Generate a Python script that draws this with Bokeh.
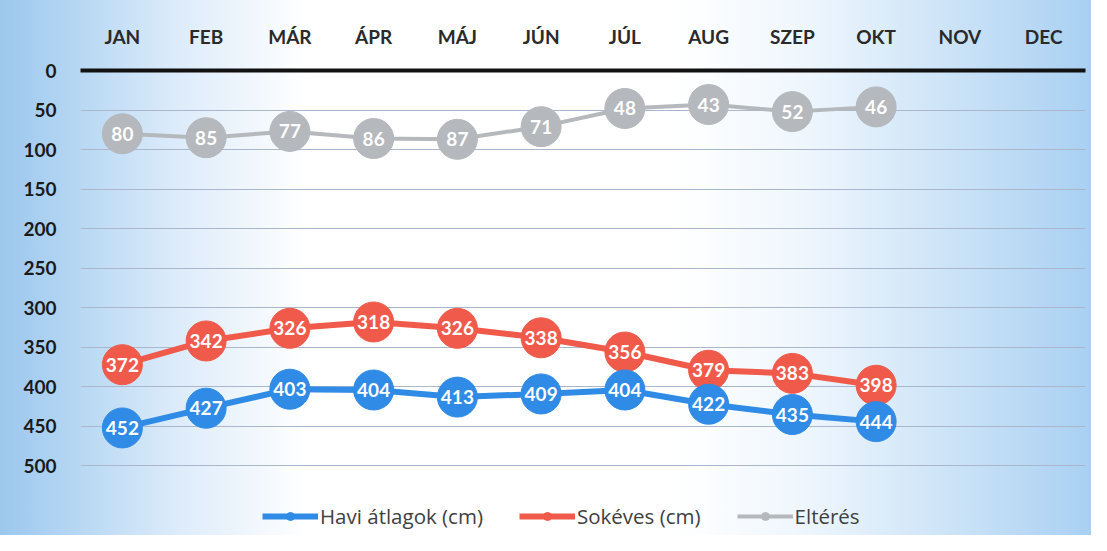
from bokeh.plotting import figure
from bokeh.models import ColumnDataSource, Range1d, Legend, LegendItem, FixedTicker
from bokeh.core.properties import value
from bokeh.embed import file_html
from bokeh.resources import INLINE

months = ["JAN", "FEB", "MÁR", "ÁPR", "MÁJ", "JÚN", "JÚL", "AUG", "SZEP", "OKT", "NOV", "DEC"]
data_months = ["JAN", "FEB", "MÁR", "ÁPR", "MÁJ", "JÚN", "JÚL", "AUG", "SZEP", "OKT"]
havi = [452, 427, 403, 404, 413, 409, 404, 422, 435, 444]
sokeves = [372, 342, 326, 318, 326, 338, 356, 379, 383, 398]
elteres = [80, 85, 77, 86, 87, 71, 48, 43, 52, 46]
y_ticks = [0, 50, 100, 150, 200, 250, 300, 350, 400, 450, 500]

series = [
    ("Eltérés", elteres, "#b5b8bc", 4),
    ("Sokéves (cm)", sokeves, "#f05a4b", 6),
    ("Havi átlagok (cm)", havi, "#2f8be6", 6),
]

FONT = "Lato"

p = figure(
    x_range=months, y_range=Range1d(588, 0),
    width=1091, height=535,
    output_backend="svg", toolbar_location=None,
    x_axis_location="above",
    min_border_left=80, min_border_right=6, min_border_top=70, min_border_bottom=0,
)
p.border_fill_color = None
p.background_fill_color = None
p.outline_line_color = None
p.styles = {"background": "linear-gradient(90deg, #9cc7ee 0%, #b6d7f3 7%, #dcebfa 16%, #ffffff 28%, #ffffff 62%, #eef6fd 74%, #cfe5f8 86%, #a9d0f2 100%)"}

# axes
xa = p.xaxis[0]
xa.axis_line_color = "#111111"
xa.axis_line_width = 4
xa.major_tick_line_color = None
xa.minor_tick_line_color = None
xa.major_label_standoff = 17
xa.major_label_text_font = FONT
xa.major_label_text_font_size = "19px"
xa.major_label_text_color = "#2a2a2a"
xa.major_label_text_font_style = "bold"

ya = p.yaxis[0]
ya.ticker = FixedTicker(ticks=y_ticks)
ya.axis_line_color = None
ya.major_tick_line_color = None
ya.minor_tick_line_color = None
ya.major_label_standoff = 18
ya.major_label_text_font = FONT
ya.major_label_text_font_size = "19px"
ya.major_label_text_color = "#1a1a1a"
ya.major_label_text_font_style = "bold"

p.xgrid.grid_line_color = None
p.ygrid.ticker = FixedTicker(ticks=y_ticks[1:])
p.ygrid.grid_line_color = "#a9b6cc"
p.ygrid.grid_line_width = 1.2

items = []
for name, vals, col, lw in series:
    src = ColumnDataSource(dict(m=data_months, v=vals, t=[str(v) for v in vals]))
    l = p.line(x="m", y="v", source=src, line_color=col, line_width=lw)
    s = p.scatter(x="m", y="v", source=src, size=40, fill_color=col, line_color=col)
    p.text(x="m", y="v", text="t", source=src, text_align="center", text_baseline="middle",
           text_color="white", text_font=value(FONT), text_font_style="bold", text_font_size="19px")
    items.append(LegendItem(label=name, renderers=[l, s]))

items = items[::-1]
legend = Legend(items=items, orientation="horizontal", location=(176, -1),
                label_text_font="Open Sans", label_text_font_size="20.5px", label_text_color="#404040",
                glyph_width=56, glyph_height=20, spacing=36, padding=6, margin=0,
                label_standoff=2,
                background_fill_alpha=0, border_line_alpha=0)
p.add_layout(legend, "center")

open("out.html", "w").write(file_html(p, INLINE))
